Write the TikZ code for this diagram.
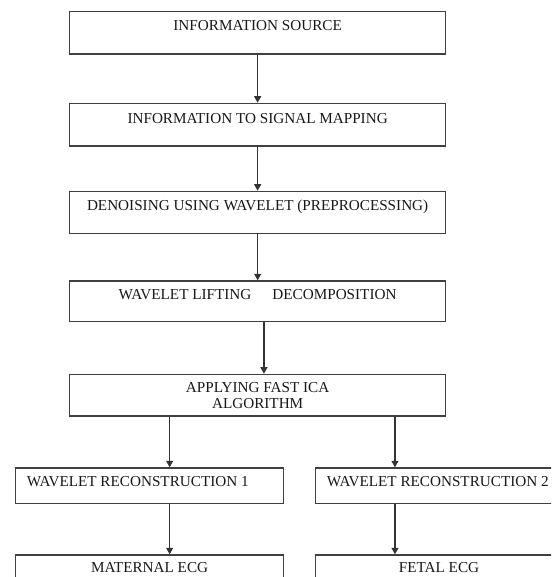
\documentclass[tikz,border=0pt]{standalone}
\usepackage{fontspec}
\setmainfont{Liberation Serif}
\usetikzlibrary{arrows.meta}
\tikzset{
  boxnode/.style={draw=black!75, line width=1.3pt, rectangle, inner sep=0pt, anchor=north west},
  txt/.style={font=\fontsize{15.2}{16}\selectfont, inner sep=0pt, text=black!90},
  arr/.style={draw=black!80, line width=1.1pt, -{Triangle[width=7pt,length=6.5pt]}}
}
\begin{document}
\begin{tikzpicture}[x=1pt,y=-1pt]
\useasboundingbox (0,0) rectangle (551,577);
\fill[white] (0,0) rectangle (551,577);
\clip (0,0) rectangle (551,577);
% boxes
\node[boxnode, minimum width=376pt, minimum height=42.6pt] (b1) at (69,10.7) {};
\node[boxnode, minimum width=376pt, minimum height=42.6pt] (b2) at (69,102.7) {};
\node[boxnode, minimum width=376pt, minimum height=42pt] (b3) at (69,190.7) {};
\node[boxnode, minimum width=376pt, minimum height=40.7pt] (b4) at (69,280.3) {};
\node[boxnode, minimum width=376pt, minimum height=41.6pt] (b5) at (69,373.7) {};
\node[boxnode, minimum width=268pt, minimum height=35.4pt] (b6) at (15,467.3) {};
\node[boxnode, minimum width=268pt, minimum height=35.4pt] (b7) at (315,467.3) {};
\node[boxnode, minimum width=268pt, minimum height=40pt] (b8) at (15,554.3) {};
\node[boxnode, minimum width=268pt, minimum height=40pt] (b9) at (315,554.3) {};
% texts
\node[txt, anchor=base] (t1) at ([yshift=-20pt]b1.north) {INFORMATION SOURCE};
\node[txt, anchor=base] (t2) at ([yshift=-20.6pt]b2.north) {INFORMATION TO SIGNAL MAPPING};
\node[txt, anchor=base] (t3) at ([yshift=-19.3pt]b3.north) {DENOISING USING WAVELET (PREPROCESSING)};
\node[txt, anchor=base] (t4) at ([yshift=-19pt]b4.north) {WAVELET LIFTING\hspace*{21pt}DECOMPOSITION};
\node[txt, anchor=base] (t5a) at ([yshift=-19pt]b5.north) {APPLYING FAST ICA};
\node[txt, anchor=base] (t5b) at ([yshift=-34.6pt]b5.north) {ALGORITHM};
\node[txt, anchor=base west] (t6) at ([xshift=11.7pt,yshift=-18.7pt]b6.north west) {WAVELET RECONSTRUCTION 1};
\node[txt, anchor=base west] (t7) at ([xshift=11.7pt,yshift=-18.7pt]b7.north west) {WAVELET RECONSTRUCTION 2};
\node[txt, anchor=base] (t8) at ([yshift=-18.4pt]b8.north) {MATERNAL ECG};
\node[txt, anchor=base] (t9) at ([xshift=124pt,yshift=-18.4pt]b9.north west) {FETAL ECG};
% arrows
\draw[arr] (b1.south) -- (b2.north);
\draw[arr] (b2.south) -- (b3.north);
\draw[arr] (b3.south) -- (b4.north);
\draw[arr] ([xshift=6.3pt]b4.south) -- ([xshift=6.3pt]b5.north);
\draw[arr] ([xshift=-88pt]b5.south) -- ([xshift=20pt]b6.north);
\draw[arr] ([xshift=137.3pt]b5.south) -- ([xshift=-54.7pt]b7.north);
\draw[arr] ([xshift=20pt]b6.south) -- ([xshift=20pt]b8.north);
\draw[arr] ([xshift=-54.7pt]b7.south) -- ([xshift=-54.7pt]b9.north);
\end{tikzpicture}
\end{document}
